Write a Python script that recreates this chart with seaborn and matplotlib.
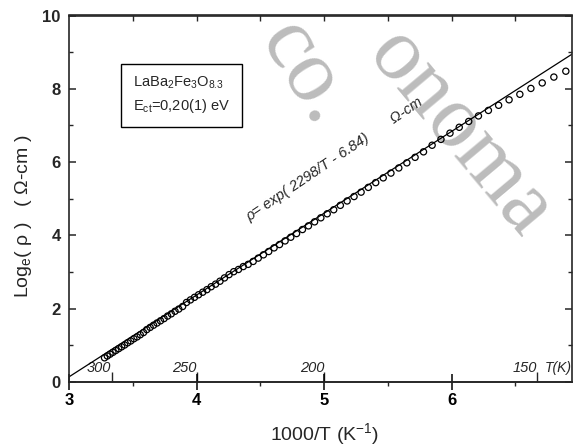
import numpy as np
import pandas as pd
import matplotlib
matplotlib.use("Agg")
import matplotlib.pyplot as plt
import seaborn as sns

# ---------------- data ----------------
temperature_K = [305, 303, 301, 299, 297, 295, 293, 291, 289, 287,
                 285, 283, 281, 279, 277, 275, 273, 271, 269, 267,
                 265, 263, 261, 259, 257, 255, 253, 251, 249, 247,
                 245, 243, 241, 239, 237, 235, 233, 231, 229, 227,
                 225, 223, 221, 219, 217, 215, 213, 211, 209, 207,
                 205, 203, 201, 199, 197, 195, 193, 191, 189, 187,
                 185, 183, 181, 179, 177, 175, 173, 171, 169, 167,
                 165, 163, 161, 159, 157, 155, 153, 151, 149, 147, 145]
log_rho = [0.66, 0.71, 0.76, 0.81, 0.86, 0.91, 0.96, 1.01, 1.07, 1.12,
           1.18, 1.23, 1.29, 1.35, 1.43, 1.49, 1.55, 1.61, 1.67, 1.73,
           1.80, 1.86, 1.93, 1.99, 2.06, 2.17, 2.24, 2.31, 2.38, 2.45,
           2.52, 2.60, 2.67, 2.75, 2.84, 2.93, 3.01, 3.07, 3.15, 3.21,
           3.29, 3.38, 3.47, 3.56, 3.66, 3.75, 3.85, 3.95, 4.05, 4.16,
           4.26, 4.37, 4.48, 4.59, 4.70, 4.82, 4.94, 5.06, 5.18, 5.31,
           5.44, 5.57, 5.70, 5.84, 5.98, 6.13, 6.28, 6.46, 6.62, 6.79,
           6.95, 7.11, 7.26, 7.41, 7.55, 7.70, 7.85, 8.01, 8.16, 8.32, 8.48]
fit_inv_T = [3.0, 6.945]
fit_log_rho = [0.14, 8.945]

x_ticks = [3, 4, 5, 6]
x_minor = [3.5, 4.5, 5.5, 6.5]
top_ticks = [3.5, 4, 4.5, 5, 5.5, 6, 6.5]
y_ticks = [0, 2, 4, 6, 8, 10]
y_minor = [1, 3, 5, 7, 9]
T_ticks = [300, 250, 200, 150]

df = pd.DataFrame({"invT": [1000.0 / t for t in temperature_K], "lnrho": log_rho})
fit = pd.DataFrame({"invT": fit_inv_T, "lnrho": fit_log_rho})

# ---------------- style ----------------
sns.set_theme(style="ticks")
plt.rcParams["font.family"] = ["Liberation Sans", "DejaVu Sans"]
plt.rcParams["mathtext.default"] = "regular"
plt.rcParams["axes.linewidth"] = 1.2

fig = plt.figure(figsize=(5.74, 4.46), dpi=100)
fig.patch.set_facecolor("white")
ax = fig.add_axes([69 / 574, 64 / 446, 503 / 574, 366.5 / 446])
ax.set_facecolor("none")

# watermark (behind the axes content)
fig.text(0.531, 0.835, "co.", fontsize=64, family="Liberation Serif",
         color="#bcbcbc", rotation=-58, ha="center", va="center",
         rotation_mode="anchor", zorder=-5)
fig.text(0.80, 0.70, "onoma", fontsize=64, family="Liberation Serif",
         color="#bcbcbc", rotation=-50, ha="center", va="center",
         rotation_mode="anchor", zorder=-5)

sns.lineplot(data=fit, x="invT", y="lnrho", color="black", linewidth=0.9, ax=ax)
sns.scatterplot(data=df, x="invT", y="lnrho", marker="o", s=20,
                facecolors="none", edgecolor="black", linewidth=0.9, ax=ax, zorder=3)

ax.set_xlim(3, 6.945)
ax.set_ylim(0, 10)
ax.set_xticks(x_ticks)
ax.set_xticks(x_minor, minor=True)
ax.set_yticks(y_ticks)
ax.set_yticks(y_minor, minor=True)
ax.tick_params(axis="x", which="major", direction="inout", length=12, width=1.1,
               pad=2, labelsize=12, colors="black")
ax.tick_params(axis="x", which="minor", direction="out", length=3, width=1)
ax.tick_params(axis="y", which="major", direction="in", length=5, width=1.1,
               left=True, right=True, pad=6, labelsize=12)
ax.tick_params(axis="y", which="minor", direction="in", length=3, width=1,
               left=True, right=True)
for lbl in ax.get_xticklabels() + ax.get_yticklabels():
    lbl.set_fontweight("bold")

# top ticks
top = ax.secondary_xaxis("top")
top.set_xticks(top_ticks)
top.tick_params(axis="x", direction="in", length=4.5, width=1, labeltop=False)
top.spines["top"].set_linewidth(1.2)


# temperature scale along the bottom, inside the frame
def inv(v):
    v = np.asarray(v, dtype=float)
    with np.errstate(divide="ignore"):
        return 1000.0 / v


tax = ax.secondary_xaxis(0.0, functions=(inv, inv))
tax.set_alignment("top")
tax.set_xticks(T_ticks)
tax.tick_params(axis="x", direction="out", length=7, width=1, pad=-2, labelsize=10.5)
for lbl in tax.get_xticklabels():
    lbl.set_fontstyle("italic")
    lbl.set_horizontalalignment("right")
ax.text(6.735, 0.27, "T(K)", fontsize=10, style="italic", ha="left", va="baseline")

# labels
ax.set_xlabel("1000/T (K$^{-1}$)", fontsize=14)
ax.xaxis.set_label_coords(0.509, -0.108)
ax.set_ylabel("Log$_{e}$( ρ )   ( Ω-cm )", fontsize=14)
ax.yaxis.set_label_coords(-0.07, 0.453)

# box with sample info
ax.text(3.882, 7.83, "LaBa$_2$Fe$_3$O$_{8.3}$\nE$_{ct}$=0,20(1) eV", fontsize=10.5,
        ha="center", va="center", multialignment="left", linespacing=1.5,
        bbox=dict(boxstyle="square,pad=0.8", fc="white", ec="black", lw=1))

# fit equation
ax.text(4.42, 4.37, "ρ= exp( 2298/T - 6.84)       Ω-cm", fontsize=10.5, style="italic",
        rotation=34, rotation_mode="anchor", ha="left", va="baseline")

fig.savefig("out.png", dpi=100)
